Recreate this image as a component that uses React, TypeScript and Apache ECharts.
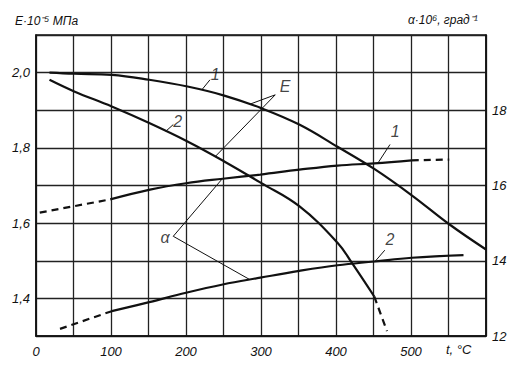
import React, { useEffect, useRef } from "react";
import * as echarts from "echarts";

// temperature t, °C
const xTickLabels = [0, 100, 200, 300, 400, 500];
// E·10^-5 MPa, left axis
const E1 = [[18, 2.0], [51, 1.997], [101, 1.994], [151, 1.981], [202, 1.963], [251, 1.939], [301, 1.905], [351, 1.862], [402, 1.803], [451, 1.744], [501, 1.674], [551, 1.597], [600, 1.53]];
const E2 = [[18, 1.981], [51, 1.95], [101, 1.91], [151, 1.866], [202, 1.817], [251, 1.764], [300, 1.707], [351, 1.645], [402, 1.548], [421, 1.495], [451, 1.405]];
const E2dash = [[451, 1.405], [468, 1.313]];
// α·10^6, right axis
const A1dashStart = [[5, 15.28], [99, 15.63]];
const A1 = [[99, 15.63], [152, 15.89], [200, 16.06], [249, 16.18], [299, 16.29], [351, 16.42], [402, 16.53], [451, 16.59], [501, 16.67]];
const A1dashEnd = [[501, 16.67], [551, 16.69]];
const A2dashStart = [[32, 12.19], [101, 12.66]];
const A2 = [[101, 12.66], [151, 12.9], [200, 13.15], [249, 13.37], [299, 13.55], [351, 13.73], [402, 13.88], [451, 13.98], [501, 14.08], [570, 14.15]];

// annotation labels: [x, y, text]
const labelsLeft = [[239, 1.994, "1"], [189, 1.87, "2"], [332, 1.962, "E"]];
const labelsRight = [[172, 14.62, "α"], [479, 17.43, "1"], [472, 14.57, "2"]];
// leader lines
const leadersLeft = [
  [[232, 1.981], [221, 1.954]],
  [[183, 1.862], [173, 1.844]],
  [[319, 1.941], [285, 1.916]],
  [[319, 1.941], [239, 1.777]],
];
const leadersRight = [
  [[183, 14.65], [248, 16.17]],
  [[183, 14.65], [285, 13.5]],
  [[472, 17.09], [456, 16.6]],
  [[465, 14.28], [452, 13.98]],
];

const FONT = "Liberation Sans";

export default function App() {
  const ref = useRef<HTMLDivElement>(null);
  useEffect(() => {
    const chart = echarts.init(ref.current!, null, { renderer: "svg" });
    const solid = (data: number[][], yAxisIndex: number) => ({
      type: "line",
      data,
      yAxisIndex,
      smooth: 0.4,
      symbol: "none",
      lineStyle: { color: "#111", width: 2.2 },
      silent: true,
    });
    const dashed = (data: number[][], yAxisIndex: number) => ({
      type: "line",
      data,
      yAxisIndex,
      symbol: "none",
      lineStyle: { color: "#111", width: 2.2, type: [7, 5] },
      silent: true,
    });
    const leader = (data: number[][], yAxisIndex: number) => ({
      type: "line",
      data,
      yAxisIndex,
      symbol: "none",
      lineStyle: { color: "#111", width: 1 },
      silent: true,
    });
    const labelSeries = (data: any[], yAxisIndex: number) => ({
      type: "scatter",
      yAxisIndex,
      symbolSize: 1,
      itemStyle: { color: "rgba(0,0,0,0)" },
      data: data.map((d) => ({ value: [d[0], d[1]], name: d[2] })),
      label: {
        show: true,
        position: "inside",
        formatter: (p: any) => p.name,
        color: "#111",
        fontFamily: FONT,
        fontStyle: "italic",
        fontSize: 16,
      },
      silent: true,
    });
    const tickLabel = {
      color: "#111",
      fontFamily: FONT,
      fontStyle: "italic",
      fontSize: 13,
    };
    chart.setOption({
      animation: false,
      backgroundColor: "#fff",
      grid: {
        left: 36,
        right: 29,
        top: 35,
        bottom: 34,
        show: true,
        borderColor: "#111",
        borderWidth: 1.5,
      },
      xAxis: {
        type: "value",
        min: 0,
        max: 600,
        interval: 50,
        axisLine: { show: true, lineStyle: { color: "#111", width: 1.5 } },
        axisTick: { show: false },
        splitLine: { show: true, lineStyle: { color: "#222", width: 1.3 } },
        axisLabel: {
          ...tickLabel,
          margin: 9,
          formatter: (v: number) => (xTickLabels.includes(v) ? String(v) : ""),
        },
      },
      yAxis: [
        {
          type: "value",
          min: 1.3,
          max: 2.1,
          interval: 0.1,
          axisLine: { show: true, lineStyle: { color: "#111", width: 1.5 } },
          axisTick: { show: false },
          splitLine: { show: true, lineStyle: { color: "#222", width: 1.3 } },
          axisLabel: {
            ...tickLabel,
            margin: 6,
            formatter: (v: number) => {
              const k = Math.round(v * 10);
              return k % 2 === 0 && k >= 14 && k <= 20 ? (k / 10).toFixed(1).replace(".", ",") : "";
            },
          },
        },
        {
          type: "value",
          min: 12,
          max: 20,
          interval: 1,
          position: "right",
          axisLine: { show: true, lineStyle: { color: "#111", width: 1.5 } },
          axisTick: { show: false },
          splitLine: { show: false },
          axisLabel: {
            ...tickLabel,
            margin: 6,
            formatter: (v: number) => {
              const k = Math.round(v);
              return k % 2 === 0 && k <= 18 ? String(k) : "";
            },
          },
        },
      ],
      graphic: [
        {
          type: "text",
          left: 15,
          top: 15,
          style: { text: "E·10⁻⁵ МПа", font: `italic 12px "${FONT}"`, fill: "#111" },
        },
        {
          type: "text",
          left: 408,
          top: 14,
          style: { text: "α·10⁶, град⁻¹", font: `italic 12px "${FONT}"`, fill: "#111" },
        },
        {
          type: "text",
          left: 446,
          top: 343,
          style: { text: "t, °C", font: `italic 13px "${FONT}"`, fill: "#111" },
        },
      ],
      series: [
        solid(E1, 0),
        solid(E2, 0),
        dashed(E2dash, 0),
        dashed(A1dashStart, 1),
        solid(A1, 1),
        dashed(A1dashEnd, 1),
        dashed(A2dashStart, 1),
        solid(A2, 1),
        ...leadersLeft.map((d) => leader(d, 0)),
        ...leadersRight.map((d) => leader(d, 1)),
        labelSeries(labelsLeft, 0),
        labelSeries(labelsRight, 1),
      ],
    });
    return () => chart.dispose();
  }, []);
  return (
    <div
      ref={ref}
      style={{ position: "absolute", left: 0, top: 0, width: 515, height: 370 }}
    />
  );
}
